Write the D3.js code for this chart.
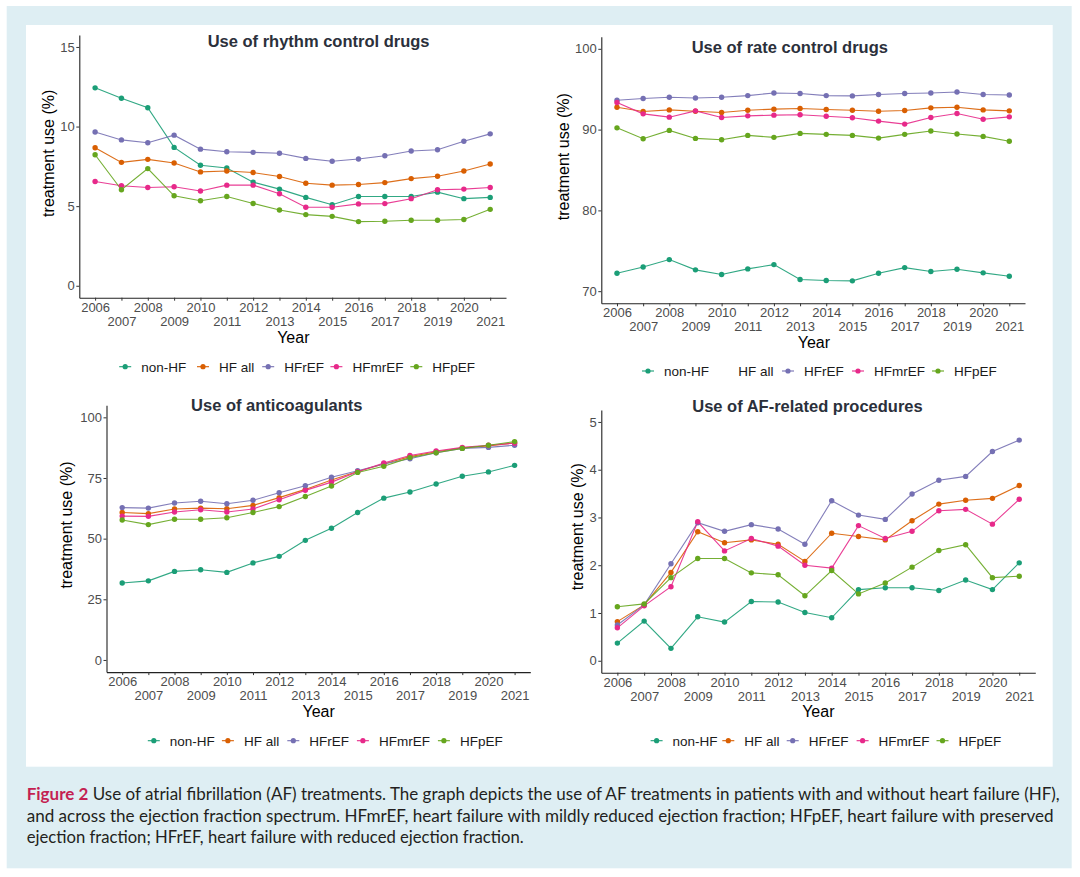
<!DOCTYPE html>
<html><head><meta charset="utf-8">
<script src="https://cdn.jsdelivr.net/npm/d3@7"></script>
<style>body{margin:0;background:#fff}svg{display:block}</style>
</head><body><svg id="c" width="1080" height="877"></svg>
<script>
// ---------- data ----------
const years = [2006,2007,2008,2009,2010,2011,2012,2013,2014,2015,2016,2017,2018,2019,2020,2021];
const seriesNames = ["non-HF","HF all","HFrEF","HFmrEF","HFpEF"];
const seriesColors = ["#1B9E77","#D95F02","#7570B3","#E7298A","#66A61E"];

// Use of rhythm control drugs
const rhythmNonHF  = [12.43,11.78,11.18,8.69,7.57,7.40,6.51,6.07,5.55,5.09,5.61,5.61,5.61,5.88,5.47,5.55];
const rhythmHFall  = [8.67,7.75,7.94,7.71,7.15,7.21,7.11,6.86,6.44,6.32,6.36,6.48,6.73,6.88,7.21,7.65];
const rhythmHFrEF  = [9.66,9.16,8.98,9.46,8.58,8.42,8.38,8.32,8.00,7.82,7.96,8.17,8.46,8.54,9.08,9.54];
const rhythmHFmrEF = [6.55,6.28,6.17,6.22,5.95,6.32,6.32,5.78,4.93,4.93,5.14,5.16,5.47,6.03,6.07,6.17];
const rhythmHFpEF  = [8.23,6.03,7.36,5.65,5.34,5.61,5.17,4.76,4.47,4.36,4.03,4.05,4.11,4.11,4.16,4.80];

// Use of rate control drugs
const rateNonHF  = [72.22,73.00,73.91,72.64,72.06,72.76,73.29,71.44,71.32,71.28,72.22,72.92,72.43,72.71,72.27,71.85];
const rateHFall  = [92.77,92.24,92.44,92.28,92.12,92.40,92.53,92.61,92.49,92.40,92.28,92.37,92.69,92.77,92.44,92.32];
const rateHFrEF  = [93.64,93.85,94.00,93.92,94.00,94.21,94.54,94.46,94.21,94.17,94.34,94.46,94.54,94.66,94.34,94.29];
const rateHFmrEF = [93.35,91.95,91.54,92.32,91.50,91.70,91.79,91.83,91.66,91.46,91.05,90.68,91.50,91.99,91.29,91.58];
const rateHFpEF  = [90.22,88.87,89.90,88.91,88.74,89.28,89.04,89.53,89.41,89.28,88.95,89.41,89.82,89.45,89.16,88.55];

// Use of anticoagulants
const antiNonHF  = [31.7,32.6,36.5,37.2,36.1,40.0,42.7,49.3,54.3,60.8,66.7,69.2,72.5,75.7,77.5,80.2];
const antiHFall  = [60.8,60.3,62.2,62.6,62.3,63.7,66.9,70.3,74.2,77.7,80.8,83.8,85.8,87.4,88.2,89.5];
const antiHFrEF  = [62.8,62.6,64.7,65.4,64.4,65.8,68.9,71.8,75.3,78.0,80.8,82.9,85.4,87.2,87.6,88.5];
const antiHFmrEF = [59.3,59.2,61.0,61.9,61.0,62.2,66.0,69.9,73.3,77.6,81.2,84.3,86.1,87.6,88.5,89.3];
const antiHFpEF  = [57.7,55.8,58.0,58.0,58.6,60.8,63.2,67.4,71.7,77.3,79.8,83.4,85.4,87.2,88.5,90.0];

// Use of AF-related procedures
const procNonHF  = [0.37,0.83,0.26,0.92,0.81,1.24,1.23,1.01,0.90,1.49,1.53,1.53,1.47,1.69,1.49,2.05];
const procHFall  = [0.82,1.17,1.85,2.70,2.47,2.53,2.44,2.08,2.67,2.60,2.53,2.93,3.28,3.36,3.40,3.67];
const procHFrEF  = [0.75,1.17,2.03,2.89,2.71,2.85,2.76,2.44,3.35,3.05,2.96,3.49,3.78,3.86,4.38,4.62];
const procHFmrEF = [0.69,1.15,1.55,2.91,2.30,2.56,2.40,2.00,1.94,2.83,2.56,2.71,3.14,3.17,2.86,3.38];
const procHFpEF  = [1.13,1.19,1.74,2.14,2.14,1.84,1.80,1.36,1.89,1.40,1.63,1.96,2.31,2.43,1.74,1.77];

const panelTitles = ["Use of rhythm control drugs","Use of rate control drugs","Use of anticoagulants","Use of AF-related procedures"];
const yTicksRhythm = [0,5,10,15];
const yTicksRate = [70,80,90,100];
const yTicksAnti = [0,25,50,75,100];
const yTicksProc = [0,1,2,3,4,5];
const yLimitsRhythm = [0,15];
const yLimitsRate = [70,100];
const yLimitsAnti = [0,100];
const yLimitsProc = [0,5];

const xTitle = "Year";
const yTitle = "treatment use (%)";

const captionLabel = "Figure 2";
const captionLines = [
  " Use of atrial fibrillation (AF) treatments. The graph depicts the use of AF treatments in patients with and without heart failure (HF),",
  "and across the ejection fraction spectrum. HFmrEF, heart failure with mildly reduced ejection fraction; HFpEF, heart failure with preserved",
  "ejection fraction; HFrEF, heart failure with reduced ejection fraction."
];

// ---------- layout ----------
const panels = [
  {title: panelTitles[0], data:[rhythmNonHF,rhythmHFall,rhythmHFrEF,rhythmHFmrEF,rhythmHFpEF], lim:yLimitsRhythm, ticks:yTicksRhythm,
   L:79.3, R:506, T:35, B:297.7, titleX:318.6, titleY:46.5, xtY:342.7, xtX:293.3, ytX:53.5, ytY:153.3,
   legY:366.7, legX:[141.2,219,284.2,352.4,432.3], hideKey:[]},
  {title: panelTitles[1], data:[rateNonHF,rateHFall,rateHFrEF,rateHFmrEF,rateHFpEF], lim:yLimitsRate, ticks:yTicksRate,
   L:601.3, R:1025, T:36.7, B:303.3, titleX:789.8, titleY:53.3, xtY:348.3, xtX:813.9, ytX:569.3, ytY:156.7,
   legY:371, legX:[664,738.3,804,874,954], hideKey:[1]},
  {title: panelTitles[2], data:[antiNonHF,antiHFall,antiHFrEF,antiHFmrEF,antiHFpEF], lim:yLimitsAnti, ticks:yTicksAnti,
   L:106.5, R:530.3, T:405.2, B:672.1, titleX:276.8, titleY:410.7, xtY:717, xtX:318.6, ytX:72.4, ytY:525,
   legY:740.7, legX:[169.8,243.9,309.3,378.9,459.9], hideKey:[]},
  {title: panelTitles[3], data:[procNonHF,procHFall,procHFrEF,procHFmrEF,procHFpEF], lim:yLimitsProc, ticks:yTicksProc,
   L:601.3, R:1035.3, T:410, B:672.7, titleX:807.5, titleY:411.7, xtY:717, xtX:818.3, ytX:583.1, ytY:526.7,
   legY:740.7, legX:[672.6,744.3,808.7,878.6,958.5], hideKey:[]}
];

const FONT = "'Liberation Sans', Arial, Helvetica, sans-serif";
const svg = d3.select("#c");

// background frame
svg.append("rect").attr("x",6.7).attr("y",6).attr("width",1065).attr("height",862.3).attr("fill","#deeef3");
svg.append("rect").attr("x",26).attr("y",25).attr("width",1026.7).attr("height",741.7).attr("fill","#ffffff");

panels.forEach(p => {
  const g = svg.append("g");
  const span = p.lim[1]-p.lim[0];
  const y = d3.scaleLinear().domain([p.lim[0]-0.05*span, p.lim[1]+0.05*span]).range([p.B, p.T]);
  const x = d3.scalePoint().domain(years).range([p.L, p.R]).padding(0.6);

  // axes
  const ya = g.append("g").attr("transform",`translate(${p.L},0)`)
    .call(d3.axisLeft(y).tickValues(p.ticks).tickFormat(d3.format("d")).tickSize(3).tickSizeOuter(0).tickPadding(1.5));
  const xa = g.append("g").attr("transform",`translate(0,${p.B})`)
    .call(d3.axisBottom(x).tickSize(3).tickSizeOuter(0));
  [ya,xa].forEach(a => {
    a.attr("font-family",FONT).attr("font-size",13);
    a.select(".domain").attr("stroke","#222").attr("stroke-width",1.1);
    a.selectAll(".tick line").attr("stroke","#333").attr("stroke-width",1);
    a.selectAll(".tick text").attr("fill","#4d4d4d");
  });
  xa.selectAll(".tick text").attr("dy",0).attr("y",(d,i)=> i%2===0 ? 14 : 28);

  // lines
  const line = d3.line().x((d,i)=>x(years[i])).y(d=>y(d));
  p.data.forEach((s,k)=>{
    g.append("path").datum(s).attr("d",line).attr("fill","none")
      .attr("stroke",seriesColors[k]).attr("stroke-width",1.1).attr("stroke-opacity",0.9);
  });
  p.data.forEach((s,k)=>{
    g.selectAll(null).data(s).enter().append("circle")
      .attr("cx",(d,i)=>x(years[i])).attr("cy",d=>y(d)).attr("r",2.7).attr("fill",seriesColors[k]);
  });

  // titles
  g.append("text").attr("x",p.titleX).attr("y",p.titleY).attr("text-anchor","middle")
    .attr("font-family",FONT).attr("font-weight","bold").attr("font-size",16.5).attr("fill","#2b303b").text(p.title);
  g.append("text").attr("x",p.xtX).attr("y",p.xtY).attr("text-anchor","middle")
    .attr("font-family",FONT).attr("font-size",16).attr("fill","#000").text(xTitle);
  g.append("text").attr("transform",`translate(${p.ytX},${p.ytY}) rotate(-90)`).attr("text-anchor","middle")
    .attr("font-family",FONT).attr("font-size",16).attr("fill","#000").text(yTitle);

  // legend
  seriesNames.forEach((nm,k)=>{
    const tx = p.legX[k], kx = tx-16;
    if (!p.hideKey.includes(k)) {
      g.append("line").attr("x1",kx-6).attr("x2",kx+6).attr("y1",p.legY).attr("y2",p.legY)
        .attr("stroke",seriesColors[k]).attr("stroke-width",1.1);
      g.append("circle").attr("cx",kx).attr("cy",p.legY).attr("r",2.6).attr("fill",seriesColors[k]);
    }
    g.append("text").attr("x",tx).attr("y",p.legY).attr("dy","0.36em")
      .attr("font-family",FONT).attr("font-size",13.5).attr("fill","#1a1a1a").text(nm);
  });
});

// caption
const CAP = "Lato, 'Open Sans', sans-serif";
const capY = [799.5, 821.5, 843];
const capLen = [1033, 1027, 497];
captionLines.forEach((ln,i)=>{
  const t = svg.append("text").attr("x",26.7).attr("y",capY[i]).attr("font-family",CAP).attr("font-size",17)
    .attr("fill","#231f20").attr("textLength",capLen[i]).attr("lengthAdjust","spacingAndGlyphs");
  if (i===0) t.append("tspan").attr("fill","#c41f52").attr("font-weight","bold").text(captionLabel);
  t.append("tspan").text(ln);
});
</script></body></html>
